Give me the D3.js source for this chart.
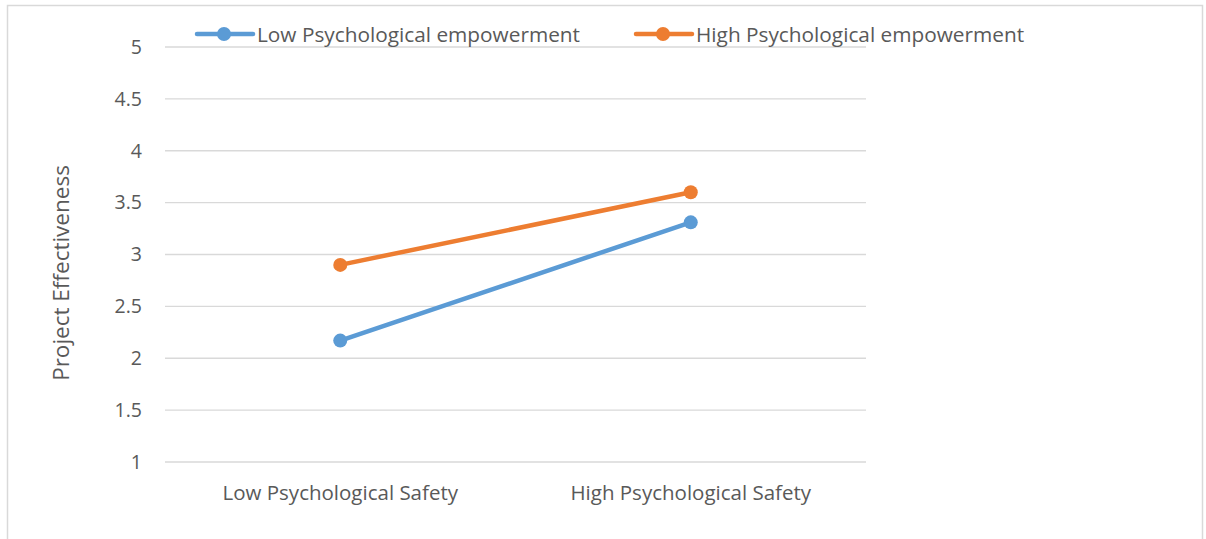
<!DOCTYPE html>
<html><head><meta charset="utf-8">
<script src="https://cdn.jsdelivr.net/npm/d3@7"></script>
<style>body{margin:0;background:#fff;} text{font-family:"Open Sans",sans-serif;fill:#595959;}</style>
</head><body>
<svg id="c" width="1206" height="539"></svg>
<script>
const categories = ["Low Psychological Safety", "High Psychological Safety"];
const seriesNames = ["Low Psychological empowerment", "High Psychological empowerment"];
const lowEmpowerment = [2.17, 3.31];
const highEmpowerment = [2.90, 3.60];
const yTicks = [1, 1.5, 2, 2.5, 3, 3.5, 4, 4.5, 5];
const colors = ["#5B9BD5", "#ED7D31"];
const yTitle = "Project Effectiveness";

const svg = d3.select("#c");
svg.append("rect").attr("x",7.5).attr("y",5.5).attr("width",1195).attr("height",545)
  .attr("fill","#fff").attr("stroke","#d9d9d9").attr("stroke-width",1.5);

const x = d3.scaleBand().domain(categories).range([165, 866]);
const y = d3.scaleLinear().domain([1, 5]).range([462, 47]);

// gridlines
svg.append("g").selectAll("line").data(yTicks).join("line")
  .attr("x1",165).attr("x2",866).attr("y1",d=>y(d)).attr("y2",d=>y(d))
  .attr("stroke","#d9d9d9").attr("stroke-width",1.3);

const yAxis = svg.append("g").attr("transform","translate(165,0)")
  .call(d3.axisLeft(y).tickValues(yTicks).tickSize(0).tickPadding(23).tickFormat(d3.format("")));
yAxis.select(".domain").remove();
yAxis.selectAll("text").style("font-size","19.5px").attr("fill","#595959");

const xAxis = svg.append("g").attr("transform","translate(0,462)")
  .call(d3.axisBottom(x).tickSize(0).tickPadding(23.5));
xAxis.select(".domain").remove();
xAxis.selectAll("text").style("font-size","20.5px").attr("fill","#595959");

svg.append("text").attr("transform","translate(69,273) rotate(-90)")
  .attr("text-anchor","middle").style("font-size","22.5px").text(yTitle);

const series = [lowEmpowerment, highEmpowerment];
const cx = c => x(c) + x.bandwidth()/2;
const line = d3.line().x((d,i)=>cx(categories[i])).y(d=>y(d));
series.forEach((s, si) => {
  svg.append("path").datum(s).attr("d", line).attr("fill","none")
    .attr("stroke", colors[si]).attr("stroke-width", 4.5).attr("stroke-linecap","round");
  svg.append("g").selectAll("circle").data(s).join("circle")
    .attr("cx",(d,i)=>cx(categories[i])).attr("cy",d=>y(d)).attr("r",7)
    .attr("fill",colors[si]);
});

// legend
const legX = [197, 636];
seriesNames.forEach((n, i) => {
  const g = svg.append("g").attr("transform",`translate(${legX[i]},34)`);
  g.append("line").attr("x1",0).attr("x2",56).attr("stroke",colors[i]).attr("stroke-width",4.5).attr("stroke-linecap","round");
  g.append("circle").attr("cx",27).attr("r",7).attr("fill",colors[i]);
  g.append("text").attr("x",60).attr("dy","0.38em").style("font-size","20.8px").text(n);
});
</script>
</body></html>
